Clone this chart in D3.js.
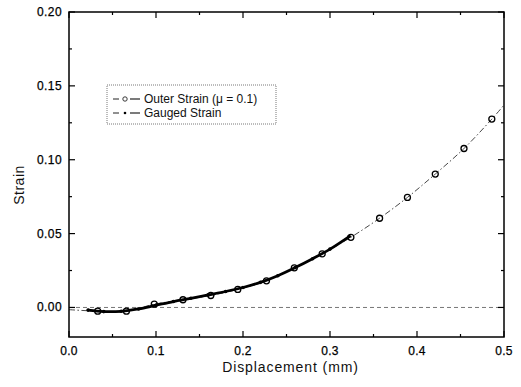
<!DOCTYPE html>
<html>
<head>
<meta charset="utf-8">
<script src="https://cdn.jsdelivr.net/npm/d3@7"></script>
<style>
  body { margin: 0; background: #fff; }
  svg { display: block; font-family: "Liberation Sans", Arial, sans-serif; }
</style>
</head>
<body>
<div id="chart"></div>
<script>
const width = 521, height = 387;
const margin = { left: 69, right: 17, top: 12, bottom: 50 };

// outer strain (mu = 0.1) - circles
const outerX = [0.033, 0.066, 0.098, 0.131, 0.163, 0.194, 0.227, 0.259, 0.291, 0.324, 0.357, 0.389, 0.421, 0.454, 0.486];
const outerY = [-0.0025, -0.0025, 0.0022, 0.0052, 0.0081, 0.0122, 0.018, 0.0268, 0.0363, 0.0475, 0.0604, 0.0745, 0.0903, 0.1076, 0.1275];
// fitted curve through the outer strain, extended to the frame
const outerLineX = [0.0, 0.033, 0.066, 0.098, 0.131, 0.163, 0.194, 0.227, 0.259, 0.291, 0.324, 0.357, 0.389, 0.421, 0.454, 0.486, 0.5];
const outerLineY = [-0.0015, -0.0025, -0.0025, 0.0022, 0.0052, 0.0081, 0.0122, 0.018, 0.0268, 0.0363, 0.0475, 0.0604, 0.0745, 0.0903, 0.1076, 0.1275, 0.137];

// gauged strain
const gaugedX = [0.022, 0.04, 0.06, 0.08, 0.10, 0.12, 0.14, 0.16, 0.18, 0.20, 0.22, 0.24, 0.26, 0.28, 0.30, 0.322];
const gaugedY = [-0.0018, -0.0028, -0.0026, -0.001, 0.0015, 0.004, 0.0062, 0.0085, 0.0108, 0.0135, 0.017, 0.0215, 0.027, 0.033, 0.0395, 0.048];

const xMajor = [0.0, 0.1, 0.2, 0.3, 0.4, 0.5];
const xMinor = [0.05, 0.15, 0.25, 0.35, 0.45];
const yMajor = [0.00, 0.05, 0.10, 0.15, 0.20];
const yMinor = [0.025, 0.075, 0.125, 0.175];

const legendLabels = ["Outer Strain (\u03bc = 0.1)", "Gauged Strain"];

const svg = d3.select("#chart").append("svg")
    .attr("width", width).attr("height", height);

const x = d3.scaleLinear().domain([0, 0.5]).range([margin.left, width - margin.right]);
const y = d3.scaleLinear().domain([-0.02, 0.20]).range([height - margin.bottom, margin.top]);

svg.append("clipPath").attr("id", "clip").append("rect")
    .attr("x", x(0)).attr("y", y(0.2))
    .attr("width", x(0.5) - x(0)).attr("height", y(-0.02) - y(0.2));

const plot = svg.append("g").attr("clip-path", "url(#clip)");

// zero reference line
plot.append("line")
    .attr("x1", x(0)).attr("x2", x(0.5))
    .attr("y1", y(0)).attr("y2", y(0))
    .attr("stroke", "#777").attr("stroke-width", 1)
    .attr("stroke-dasharray", "4,3");

// outer strain line
const curve = d3.line().x(d => x(d[0])).y(d => y(d[1])).curve(d3.curveCatmullRom);
plot.append("path")
    .datum(outerLineX.map((v, i) => [v, outerLineY[i]]))
    .attr("d", curve)
    .attr("fill", "none").attr("stroke", "#333").attr("stroke-width", 0.9)
    .attr("stroke-dasharray", "6,2.5,1.5,2.5");

// gauged strain line
plot.append("path")
    .datum(gaugedX.map((v, i) => [v, gaugedY[i]]))
    .attr("d", curve)
    .attr("fill", "none").attr("stroke", "#000").attr("stroke-width", 2.8)
    .attr("stroke-linecap", "round");

plot.selectAll(".gdot")
    .data(gaugedX.map((v, i) => [v, gaugedY[i]]))
    .enter().append("circle")
    .attr("class", "gdot")
    .attr("cx", d => x(d[0])).attr("cy", d => y(d[1]))
    .attr("r", 1.8).attr("fill", "#000");

// outer strain circles
plot.selectAll(".ocirc")
    .data(outerX.map((v, i) => [v, outerY[i]]))
    .enter().append("circle")
    .attr("class", "ocirc")
    .attr("cx", d => x(d[0])).attr("cy", d => y(d[1]))
    .attr("r", 3).attr("fill", "none")
    .attr("stroke", "#000").attr("stroke-width", 1.3);

// frame
svg.append("rect")
    .attr("x", x(0)).attr("y", y(0.2))
    .attr("width", x(0.5) - x(0)).attr("height", y(-0.02) - y(0.2))
    .attr("fill", "none").attr("stroke", "#000").attr("stroke-width", 1.5);

// inward ticks on all four sides
const major = 6, minor = 3;
const tickG = svg.append("g").attr("stroke", "#000").attr("stroke-width", 1.2);
[[xMajor, major], [xMinor, minor]].forEach(([vals, len]) => {
    vals.forEach(v => {
        tickG.append("line").attr("x1", x(v)).attr("x2", x(v))
            .attr("y1", y(-0.02)).attr("y2", y(-0.02) - len);
        tickG.append("line").attr("x1", x(v)).attr("x2", x(v))
            .attr("y1", y(0.2)).attr("y2", y(0.2) + len);
    });
});
[[yMajor, major], [yMinor, minor]].forEach(([vals, len]) => {
    vals.forEach(v => {
        tickG.append("line").attr("y1", y(v)).attr("y2", y(v))
            .attr("x1", x(0)).attr("x2", x(0) + len);
        tickG.append("line").attr("y1", y(v)).attr("y2", y(v))
            .attr("x1", x(0.5)).attr("x2", x(0.5) - len);
    });
});

// tick labels
svg.selectAll(".xl").data(xMajor).enter().append("text")
    .attr("x", d => x(d)).attr("y", y(-0.02) + 18)
    .attr("text-anchor", "middle").attr("font-size", 12)
    .attr("letter-spacing", 0.3).attr("fill", "#000")
    .attr("stroke", "#000").attr("stroke-width", 0.25)
    .text(d => d3.format(".1f")(d));

svg.selectAll(".yl").data(yMajor).enter().append("text")
    .attr("x", x(0) - 7).attr("y", d => y(d) + 4)
    .attr("text-anchor", "end").attr("font-size", 12)
    .attr("letter-spacing", 0.4).attr("fill", "#000")
    .attr("stroke", "#000").attr("stroke-width", 0.25)
    .text(d => d3.format(".2f")(d));

// axis titles
svg.append("text")
    .attr("x", (x(0) + x(0.5)) / 2 + 4).attr("y", 372)
    .attr("text-anchor", "middle").attr("font-size", 14)
    .attr("letter-spacing", 0.9).attr("fill", "#111")
    .text("Displacement (mm)");

svg.append("text")
    .attr("transform", "translate(24,185) rotate(-90)")
    .attr("text-anchor", "middle").attr("font-size", 14)
    .attr("letter-spacing", 0.5).attr("fill", "#111")
    .text("Strain");

// legend
const lg = svg.append("g");
lg.append("rect")
    .attr("x", 107).attr("y", 85).attr("width", 169).attr("height", 39)
    .attr("fill", "#fff").attr("stroke", "#555").attr("stroke-width", 0.8)
    .attr("stroke-dasharray", "1,1");

legendLabels.forEach((t, i) => {
    const ly = 99 + i * 14;
    lg.append("line").attr("x1", 113).attr("x2", 119)
        .attr("y1", ly).attr("y2", ly)
        .attr("stroke", "#222").attr("stroke-width", 1);
    lg.append("line").attr("x1", 130).attr("x2", 140)
        .attr("y1", ly).attr("y2", ly)
        .attr("stroke", "#222").attr("stroke-width", 1.2);
    if (i === 0) {
        lg.append("circle").attr("cx", 125).attr("cy", ly).attr("r", 2.2)
            .attr("fill", "none").attr("stroke", "#222").attr("stroke-width", 0.9);
    } else {
        lg.append("circle").attr("cx", 125).attr("cy", ly).attr("r", 1.3).attr("fill", "#000");
    }
    lg.append("text").attr("x", 144).attr("y", ly + 4)
        .attr("font-size", 12).attr("fill", "#111")
        .text(t);
});
</script>
</body>
</html>
